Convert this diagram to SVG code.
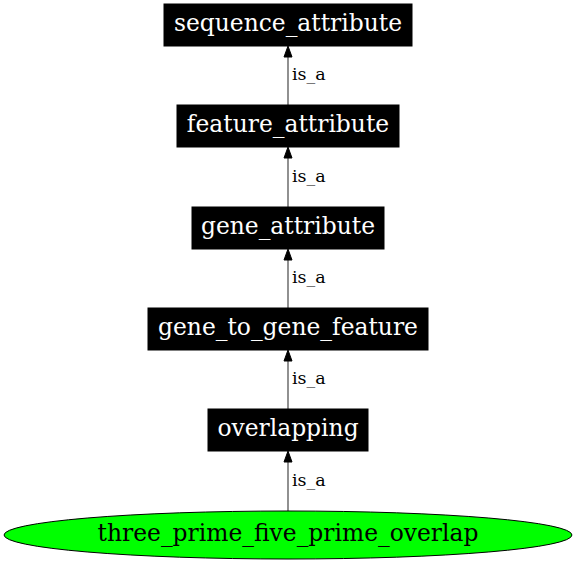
<svg xmlns="http://www.w3.org/2000/svg" width="576" height="564" viewBox="0 0 576 564">
<style>
.box{fill:#000;stroke:#000}
.nt{font-family:"DejaVu Serif",serif;font-size:23.4px;fill:#fff;text-anchor:middle}
.et{font-family:"DejaVu Serif",serif;font-size:17.5px;fill:#000}
.e{stroke:#555;stroke-width:1.3;fill:none}
.ah{fill:#000;stroke:#000}
</style>
<rect width="576" height="564" fill="#fff"/>
<g id="edges">
<line class="e" x1="288" y1="105" x2="288" y2="56"/><path class="ah" d="M284,57 L288,46 L292,57 Z"/>
<text class="et" x="292" y="80">is_a</text>
<line class="e" x1="288" y1="207" x2="288" y2="158"/><path class="ah" d="M284,158 L288,147 L292,158 Z"/>
<text class="et" x="292" y="182">is_a</text>
<line class="e" x1="288" y1="308" x2="288" y2="260"/><path class="ah" d="M284,260 L288,249 L292,260 Z"/>
<text class="et" x="292" y="283">is_a</text>
<line class="e" x1="288" y1="409" x2="288" y2="361"/><path class="ah" d="M284,361 L288,350 L292,361 Z"/>
<text class="et" x="292" y="384">is_a</text>
<line class="e" x1="288" y1="511" x2="288" y2="462"/><path class="ah" d="M284,462 L288,451 L292,462 Z"/>
<text class="et" x="292" y="486">is_a</text>
</g>
<g id="sequence_attribute"><rect class="box" x="164" y="4" width="248" height="42"/><text class="nt" x="288" y="31">sequence_attribute</text></g>
<g id="feature_attribute"><rect class="box" x="177" y="105" width="222" height="42"/><text class="nt" x="288" y="132">feature_attribute</text></g>
<g id="gene_attribute"><rect class="box" x="192" y="207" width="192" height="42"/><text class="nt" x="288" y="234">gene_attribute</text></g>
<g id="gene_to_gene_feature"><rect class="box" x="148" y="308" width="280" height="42"/><text class="nt" x="288" y="335">gene_to_gene_feature</text></g>
<g id="overlapping"><rect class="box" x="208" y="409" width="160" height="42"/><text class="nt" x="288" y="436">overlapping</text></g>
<g id="three_prime_five_prime_overlap"><ellipse cx="288" cy="535" rx="284" ry="24" fill="#00ff00" stroke="#000"/><text class="nt" x="288" y="541" style="fill:#000">three_prime_five_prime_overlap</text></g>
</svg>
